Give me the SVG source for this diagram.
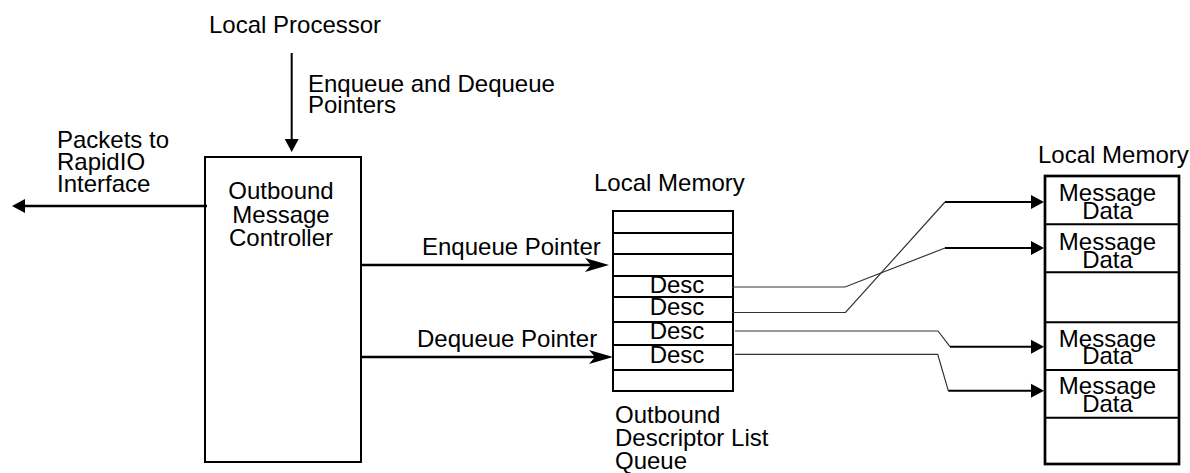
<svg xmlns="http://www.w3.org/2000/svg" width="1190" height="473" viewBox="0 0 1190 473">
<style>
text{font-family:"Liberation Sans",Arial,Helvetica,sans-serif;font-size:24px;fill:#000}
.c{text-anchor:middle}
.box{fill:#fff;stroke:#000;stroke-width:2}
.div{stroke:#000;stroke-width:2;fill:none}
.arr{stroke:#000;stroke-width:2.5;fill:none}
.thin{stroke:#333;stroke-width:1.2;fill:none}
.seg{stroke:#000;stroke-width:2;fill:none}
</style>
<defs>
<marker id="tri" markerUnits="userSpaceOnUse" markerWidth="14" markerHeight="16" viewBox="-13 -8 14 16" refX="-6" refY="0" orient="auto"><path d="M0,0 L-13,-7 L-13,7 Z" fill="#000"/></marker>
<marker id="stealth" markerUnits="userSpaceOnUse" markerWidth="26" markerHeight="16" viewBox="-25 -8 26 16" refX="-18" refY="0" orient="auto"><path d="M0,0 L-24,-7 L-18,0 L-24,7 Z" fill="#000"/></marker>
</defs>

<g id="local-processor">
<text x="209" y="33">Local Processor</text>
</g>

<g id="controller">
<rect class="box" x="205" y="157" width="156" height="305"/>
<text class="c" x="281" y="199">Outbound</text>
<text class="c" x="281" y="222.5">Message</text>
<text class="c" x="281" y="246">Controller</text>
</g>

<g id="descriptor-queue">
<text x="594" y="191">Local Memory</text>
<rect class="box" x="613" y="211" width="120" height="180"/>
<path class="div" d="M613,233H733M613,254H733M613,276H733M613,297H733M613,322H733M613,345H733M613,370H733"/>
<text class="c" x="677" y="292.7">Desc</text>
<text class="c" x="677" y="315">Desc</text>
<text class="c" x="677" y="339.3">Desc</text>
<text class="c" x="677" y="363.3">Desc</text>
<text x="615" y="422.7">Outbound</text>
<text x="615" y="445.7">Descriptor List</text>
<text x="615" y="468.5">Queue</text>
</g>

<g id="message-memory">
<text x="1038" y="163">Local Memory</text>
<rect x="1045" y="176" width="134" height="288" fill="#fff" stroke="#000" stroke-width="2.7"/>
<path class="div" d="M1045,224.3H1179M1045,272.3H1179M1045,322.3H1179M1045,370H1179M1045,417.7H1179"/>
<text class="c" x="1107.5" y="200.5">Message</text>
<text class="c" x="1107.5" y="219.3">Data</text>
<text class="c" x="1107.5" y="250">Message</text>
<text class="c" x="1107.5" y="267.7">Data</text>
<text class="c" x="1107.5" y="346.7">Message</text>
<text class="c" x="1107.5" y="364">Data</text>
<text class="c" x="1107.5" y="394">Message</text>
<text class="c" x="1107.5" y="411.7">Data</text>
</g>

<g id="connectors">
<line class="arr" x1="291.7" y1="53" x2="291.7" y2="146" marker-end="url(#tri)" style="stroke-width:2"/>
<text x="308" y="92.3">Enqueue and Dequeue</text>
<text x="308" y="113.3">Pointers</text>
<line class="arr" x1="207" y1="206" x2="18" y2="206" marker-end="url(#tri)"/>
<text x="57" y="148">Packets to</text>
<text x="57" y="170">RapidIO</text>
<text x="57" y="192">Interface</text>
<line class="arr" x1="361" y1="265" x2="591" y2="265" marker-end="url(#stealth)"/>
<text x="422" y="255">Enqueue Pointer</text>
<line class="arr" x1="361" y1="357" x2="595" y2="357" marker-end="url(#stealth)"/>
<text x="417" y="347">Dequeue Pointer</text>

<polyline class="thin" points="732,287 845,287 945,248"/>
<line class="seg" x1="945" y1="248" x2="1038" y2="248" marker-end="url(#tri)"/>
<polyline class="thin" points="732,312.5 845.5,312.5 945,202"/>
<line class="seg" x1="945" y1="202" x2="1038" y2="202" marker-end="url(#tri)"/>
<polyline class="thin" points="735,331 938,331 950,346.7"/>
<line class="seg" x1="950" y1="346.7" x2="1038" y2="346.7" marker-end="url(#tri)"/>
<polyline class="thin" points="735,354.3 937.7,354.3 948.3,390.7"/>
<line class="seg" x1="948.3" y1="390.7" x2="1038" y2="390.7" marker-end="url(#tri)"/>
</g>
</svg>
